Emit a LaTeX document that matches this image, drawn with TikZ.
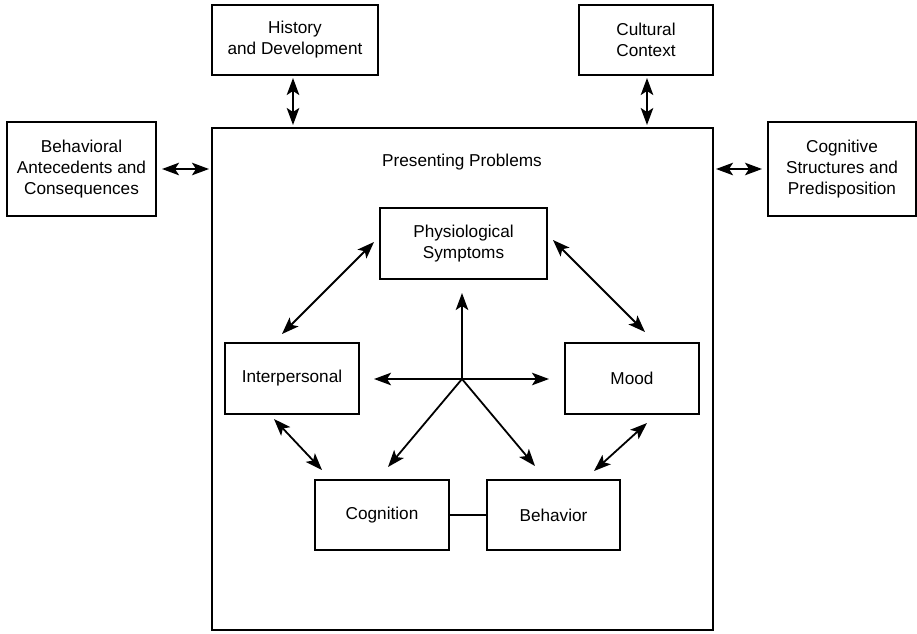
\documentclass[tikz,border=0pt]{standalone}
\usepackage{fontspec}
\setmainfont{Liberation Sans}
\usetikzlibrary{arrows.meta,calc}
\begin{document}
\begin{tikzpicture}[x=1pt,y=-1pt,
  box/.style={draw, line width=2pt, rectangle, align=center, inner sep=0pt,
    font=\fontsize{17.2}{21}\selectfont},
  tip/.tip={Stealth[length=17pt,width=12.5pt,inset=4pt]},
  arr/.style={line width=1.8pt, -tip},
  dbl/.style={line width=1.8pt, tip-tip},
  lbl/.style={font=\fontsize{17.2}{21}\selectfont, inner sep=0pt}]
\useasboundingbox (0,0) rectangle (917,633);
\node[box, minimum width=166pt, minimum height=70pt] (hist) at (295,40) {History\\and Development};
\node[box, minimum width=134pt, minimum height=70pt] (cult) at (646,40) {Cultural\\Context};
\node[box, minimum width=149pt, minimum height=94pt] (bant) at (81.5,169) {Behavioral\\Antecedents and\\Consequences};
\node[box, minimum width=148pt, minimum height=94pt] (cstr) at (842,169) {Cognitive\\Structures and\\Predisposition};
\node[draw, line width=2pt, minimum width=501pt, minimum height=502pt, inner sep=0pt] (big) at (462.5,379) {};
\node[lbl] (pp) at (462,162) {Presenting Problems};
\node[box, minimum width=167pt, minimum height=71pt] (phys) at (463.5,243.5) {Physiological\\Symptoms};
\node[box, minimum width=134pt, minimum height=71pt] (inter) at (292,378.5) {Interpersonal};
\node[box, minimum width=134pt, minimum height=71pt] (mood) at (632,378.5) {Mood};
\node[box, minimum width=134pt, minimum height=70pt] (cogn) at (382,515) {Cognition};
\node[box, minimum width=133pt, minimum height=70pt] (behav) at (553.5,515) {Behavior};
\coordinate (c) at (462,379);
% outer arrows
\draw[dbl, shorten <=2pt, shorten >=2pt] ([xshift=-2pt]hist.south) -- ([xshift=-2pt]hist.south |- big.north);
\draw[dbl, shorten <=2pt, shorten >=2pt] ([xshift=1pt]cult.south) -- ([xshift=1pt]cult.south |- big.north);
\draw[dbl, shorten <=5pt, shorten >=2pt] (bant.east) -- (bant.east -| big.west);
\draw[dbl, shorten <=2pt, shorten >=5pt] (cstr.west -| big.east) -- (cstr.west);
% inner arrows
\draw[dbl] ([xshift=-10pt,yshift=8pt]inter.north) -- ([xshift=-5pt,yshift=1.5pt]phys.west);
\draw[dbl] ([xshift=5pt,yshift=3.5pt]phys.east) -- ([xshift=13pt,yshift=10pt]mood.north);
\draw[dbl] ([xshift=-18pt,yshift=-4pt]inter.south) -- ([xshift=8pt,yshift=9pt]cogn.north west);
\draw[dbl] ([xshift=15pt,yshift=-8pt]mood.south) -- ([xshift=-27pt,yshift=8pt]behav.north east);
\draw[arr, shorten >=13pt] (c) -- (c |- phys.south);
\draw[arr, shorten >=14pt] (c) -- (c -| inter.east);
\draw[arr, shorten >=15pt] (c) -- (c -| mood.west);
\draw[arr] (c) -- ([xshift=6pt,yshift=12pt]cogn.north);
\draw[arr] (c) -- ([xshift=-18.5pt,yshift=13pt]behav.north);
\draw[line width=1.8pt] (cogn.east) -- (behav.west);
\end{tikzpicture}
\end{document}
